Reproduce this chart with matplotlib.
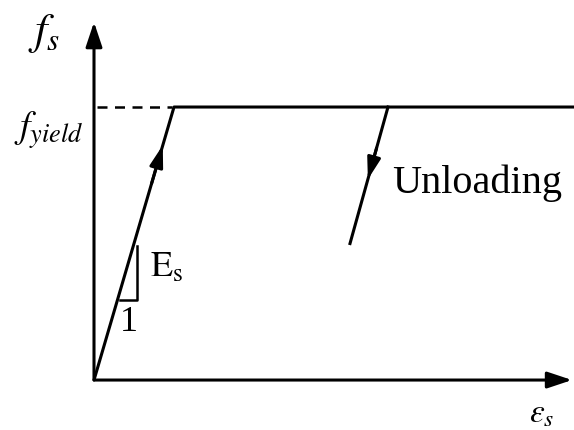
import numpy as np
import matplotlib.pyplot as plt

plt.rcParams['mathtext.fontset'] = 'stix'
plt.rcParams['font.family'] = ['Liberation Serif', 'DejaVu Serif']

# elastic-perfectly-plastic steel model (normalised units)
eps_yield = 1.0
f_yield = 1.0
eps_max = 6.0
strain_load = [0.0, eps_yield, eps_max]
stress_load = [0.0, f_yield, f_yield]
strain_unload = [3.675, 3.2]
stress_unload = [1.0, 0.5]
axis_x_end = 5.975
axis_y_end = 1.311

fig = plt.figure(figsize=(5.74, 4.30), dpi=100)
ax = fig.add_axes([0, 0, 1, 1])
ax.set_xlim(-1.175, 6.0)
ax.set_ylim(-0.183, 1.392)
ax.axis('off')

lw = 2.2
arrow_kw = dict(arrowstyle='-|>,head_length=1.5,head_width=0.5', lw=lw,
                color='black', shrinkA=0, shrinkB=0)

# axes with arrowheads
ax.annotate('', xy=(axis_x_end, 0), xytext=(0, 0), arrowprops=arrow_kw)
ax.annotate('', xy=(0, axis_y_end), xytext=(0, 0), arrowprops=arrow_kw)

# stress-strain path
ax.plot(strain_load, stress_load, color='black', lw=lw, solid_capstyle='butt')
ax.plot([0.04, 0.97], [f_yield, f_yield], color='black', lw=1.8,
        dashes=(4, 3))
ax.plot(strain_unload, stress_unload, color='black', lw=lw)

# direction arrows along the branches
small_kw = dict(arrowstyle='-|>,head_length=1.3,head_width=0.4', lw=lw,
                color='black', shrinkA=0, shrinkB=0)
t0, t1 = 0.72, 0.86
ax.annotate('', xy=(t1 * eps_yield, t1 * f_yield),
            xytext=(t0 * eps_yield, t0 * f_yield), arrowprops=small_kw)
u0, u1 = 0.30, 0.53
ux = lambda u: strain_unload[0] + u * (strain_unload[1] - strain_unload[0])
uy = lambda u: stress_unload[0] + u * (stress_unload[1] - stress_unload[0])
ax.annotate('', xy=(ux(u1), uy(u1)), xytext=(ux(u0), uy(u0)),
            arrowprops=small_kw)

# slope triangle
ax.plot([0.535, 0.535, 0.325], [0.49, 0.293, 0.293], color='black', lw=1.8)

ax.text(0.70, 0.41, r'$\mathrm{E_s}$', fontsize=26, ha='left', va='center')
ax.text(0.44, 0.21, '1', fontsize=26, ha='center', va='center')
ax.text(3.73, 0.72, 'Unloading', fontsize=29, ha='left', va='center')
ax.text(-0.62, 1.27, r'$f_s$', fontsize=32, ha='center', va='center')
ax.text(-1.0, 0.915, r'$f_{yield}$', fontsize=27, ha='left', va='center')
ax.text(5.6, -0.125, r'$\varepsilon_s$', fontsize=24, ha='center', va='center')

fig.savefig('out.png', dpi=100)
